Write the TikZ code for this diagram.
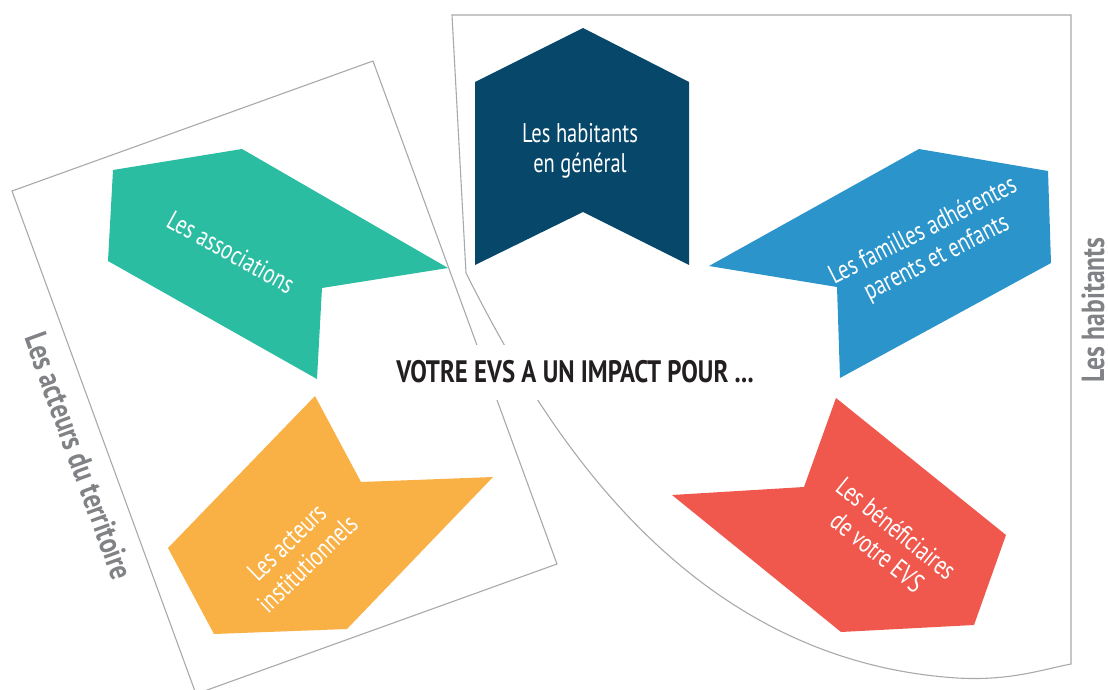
\documentclass[tikz,border=0pt]{standalone}
\usepackage{fontspec}
\setmainfont{PT Sans}[FakeStretch=0.76]
\newfontfamily\titlefont{PT Sans}[FakeStretch=0.80]
\definecolor{dblue}{HTML}{06476A}
\definecolor{tgreen}{HTML}{2ABDA1}
\definecolor{tyellow}{HTML}{F9B044}
\definecolor{tblue}{HTML}{2B95CB}
\definecolor{tred}{HTML}{F0584D}
\definecolor{fgray}{HTML}{A7A9AC}
\definecolor{lgray}{HTML}{808285}
\definecolor{tblack}{HTML}{231F20}
\begin{document}
\begin{tikzpicture}[x=1pt,y=-1pt,
  frame/.style={draw=fgray, line width=1.1pt, line join=miter},
  lbl/.style={text=white, font=\fontsize{27}{30}\selectfont, align=center, inner sep=0pt},
  side/.style={text=lgray, font=\titlefont\bfseries\fontsize{32}{34}\selectfont, inner sep=0pt},
]
\useasboundingbox (0,0) rectangle (1108,690);
% frames
\draw[frame] (12,191) -- (373,61) -- (557,564) -- (196,694) -- cycle;
\draw[frame] (1071,664) .. controls (1040,670) and (1010,681) .. (957,678)
  .. controls (680,660) and (540,420) .. (466,273) -- (452,15) -- (1071,15) -- cycle;
% shapes
\fill[dblue] (475,82) -- (583,28) -- (689,82) -- (689,265) -- (583,212) -- (475,265) -- cycle;
\fill[tgreen] (113,170) -- (242,149) -- (448,268) -- (322,288) -- (317,379) -- (108,261) -- cycle;
\fill[tyellow] (315,396) -- (361,482) -- (493,477) -- (347,629) -- (214,634) -- (168,548) -- cycle;
\fill[tblue] (709,266) -- (919,149) -- (1048,171) -- (1051,263) -- (840,378) -- (837,287) -- cycle;
\fill[tred] (836,398) -- (1006,535) -- (974,625) -- (841,632) -- (672,495) -- (804,487) -- cycle;
% labels
\node[lbl] (hab) at (580,151) {Les habitants\\en général};
\node[lbl, rotate=-29] (assoc) at (231,252) {Les associations};
\node[lbl, rotate=44] (inst) at (297,553) {Les acteurs\\institutionnels};
\node[lbl, rotate=27] (fam) at (930,245) {Les familles adhérentes\\parents et enfants};
\node[lbl, rotate=-39] (benef) at (887,540) {Les bénéficiaires\\de votre EVS};
\node[side, rotate=-70] (acteurs) at (79,456) {Les acteurs du territoire};
\node[side, rotate=90, anchor=base] (habs) at (1104,310) {Les habitants};
\node[fill=white, inner xsep=6pt, minimum height=55pt, text=tblack, font=\titlefont\bfseries\fontsize{31}{34}\selectfont] (title) at (575,372) {VOTRE EVS A UN IMPACT POUR ...};
\end{tikzpicture}
\end{document}
